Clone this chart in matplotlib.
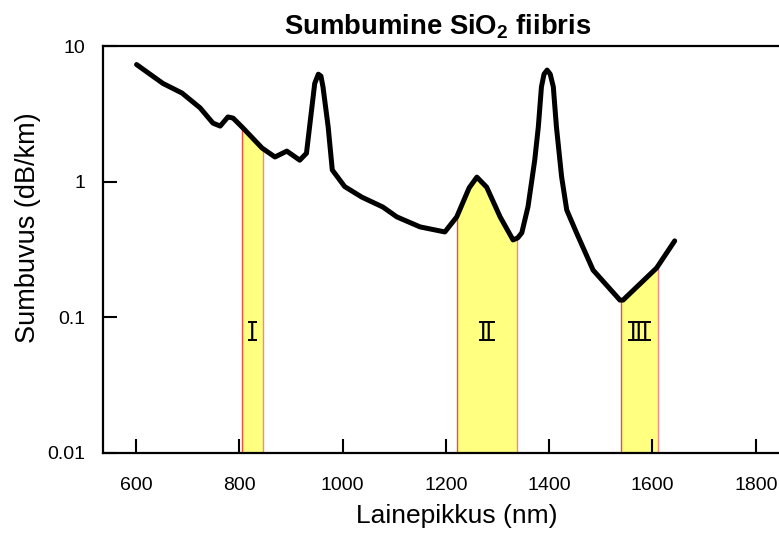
import matplotlib
matplotlib.use("Agg")
import numpy as np
from matplotlib import pyplot as plt
from matplotlib.font_manager import FontProperties
from matplotlib.textpath import TextPath

# attenuation curve
wavelength = [601, 652, 689, 724, 749, 763, 778, 788, 807, 844, 869, 892, 917, 930,
              940, 946, 953, 958, 962, 972, 980, 1004, 1037, 1078, 1105, 1150, 1198,
              1221, 1245, 1260, 1279, 1305, 1330, 1339, 1347, 1359, 1372, 1379,
              1385, 1390, 1396, 1402, 1408, 1414, 1424, 1434, 1453, 1485, 1537,
              1543, 1608, 1643]
attenuation = [7.3, 5.3, 4.5, 3.5, 2.7, 2.57, 3.0, 2.94, 2.49, 1.77, 1.52, 1.68, 1.44, 1.62,
               3.4, 5.3, 6.2, 6.0, 5.0, 2.54, 1.22, 0.92, 0.77, 0.65, 0.55, 0.464, 0.426,
               0.55, 0.9, 1.08, 0.91, 0.55, 0.372, 0.385, 0.42, 0.654, 1.44, 2.54,
               5.0, 6.2, 6.65, 6.2, 5.0, 2.54, 1.09, 0.618, 0.419, 0.223, 0.134,
               0.134, 0.231, 0.366]

# transmission windows
windows = [(805, 845), (1221, 1337), (1540, 1610)]
window_names = ["I", "II", "III"]
label_y = [0.079, 0.079, 0.079]

yticks = [0.01, 0.1, 1, 10]
ytick_labels = ["0.01", "0.1", "1", "10"]
xticks = [600, 800, 1000, 1200, 1400, 1600, 1800]

plt.rcParams["font.family"] = ["Liberation Sans", "DejaVu Sans"]
plt.rcParams["mathtext.default"] = "regular"

DPI = 100
fig = plt.figure(figsize=(7.79, 5.35), dpi=DPI)
ax = fig.add_axes([0.1322, 0.1533, 0.8678, 0.7607])

ax.set_yscale("log")
ax.set_xlim(536, 1845)
ax.set_ylim(0.01, 10)

wl = np.array(wavelength, dtype=float)
att = np.array(attenuation, dtype=float)

# roman numeral labels with a bar above and below
num_size = 17
num_font = FontProperties(family="Liberation Sans", size=num_size)
px_per_pt = DPI / 72.0
to_axes = ax.transAxes.inverted()

for (lo, hi), name, ly in zip(windows, window_names, label_y):
    xs = np.linspace(lo, hi, 60)
    ys = 10 ** np.interp(xs, wl, np.log10(att))
    ax.fill_between(xs, 0.01, ys, color="#FFFF80", lw=0, zorder=1)
    ax.plot([lo, lo], [0.01, ys[0]], color="#F04C3C", lw=1.0, zorder=2)
    ax.plot([hi, hi], [0.01, ys[-1]], color="#F08A8A", lw=1.0, zorder=2)

    ink = TextPath((0, 0), name, prop=num_font).get_extents()
    cap_px = ink.y1 * px_per_pt
    half_w = ink.width * px_per_pt / 2 + 3.5
    cx, cy = ax.transData.transform(((lo + hi) / 2, ly))
    base = cy - cap_px / 2
    bx, by = to_axes.transform((cx, base))
    ax.text(bx, by, name, transform=ax.transAxes, ha="center", va="baseline",
            fontproperties=num_font, zorder=3)
    for yy in (base - 1, base + cap_px + 1):
        p0 = to_axes.transform((cx - half_w, yy))
        p1 = to_axes.transform((cx + half_w, yy))
        ax.plot([p0[0], p1[0]], [p0[1], p1[1]], transform=ax.transAxes,
                color="black", lw=1.4, solid_capstyle="butt", zorder=3)

ax.plot(wl, att, color="black", lw=3.6, solid_capstyle="round",
        solid_joinstyle="round", zorder=4)

ax.set_yticks(yticks)
ax.set_yticklabels(ytick_labels)
ax.yaxis.set_minor_locator(matplotlib.ticker.NullLocator())
ax.set_xticks(xticks)

ax.tick_params(axis="both", direction="in", length=10, width=1.5, labelsize=14)
ax.tick_params(axis="y", pad=13)
ax.tick_params(axis="x", pad=17)
for side in ["left", "bottom", "top"]:
    ax.spines[side].set_linewidth(1.6)
ax.spines["right"].set_visible(False)

ax.set_xlabel("Lainepikkus (nm)", fontsize=19)
ax.xaxis.set_label_coords(0.524, -0.125)
ax.set_ylabel("Sumbuvus (dB/km)", fontsize=19.5)
ax.yaxis.set_label_coords(-0.092, 0.553)
ax.set_title("Sumbumine SiO$_2$ fiibris", fontsize=19.8, fontweight="bold",
             pad=8, x=0.495)

fig.savefig("out.png", dpi=DPI)
